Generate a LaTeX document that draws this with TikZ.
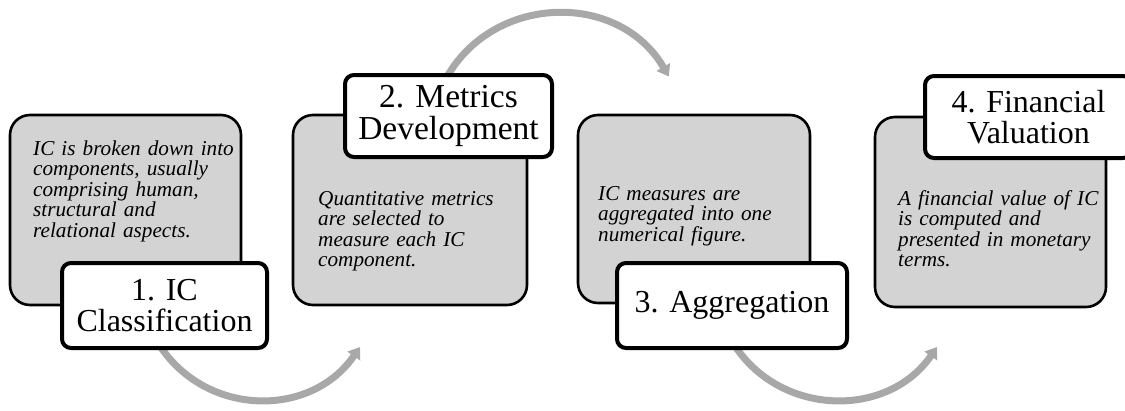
\documentclass[tikz,border=0pt]{standalone}
\usepackage{fontspec}
\setmainfont{Liberation Serif}
\usetikzlibrary{arrows.meta,shadows}
\definecolor{boxgray}{RGB}{211,211,211}
\definecolor{arrowgray}{RGB}{168,168,168}
\begin{document}
\begin{tikzpicture}[x=1pt,y=-1pt,
  gbox/.style={draw=black, line width=2.6pt, fill=boxgray, rounded corners=20pt, inner sep=0pt},
  lab/.style={draw=black, line width=4pt, fill=white, rounded corners=9pt, inner sep=0pt,
    align=center, font=\fontsize{32}{31}\selectfont,
    drop shadow={shadow xshift=1.5pt, shadow yshift=-1.5pt, opacity=0.3, fill=black}},
  desc/.style={anchor=base west, inner sep=0pt, text width=220pt, align=left,
    font=\fontsize{21.2}{20.5}\itshape\selectfont},
  flow/.style={draw=arrowgray, line width=7pt, -{Triangle[width=15pt,length=11pt]}}
]
\useasboundingbox (0,0) rectangle (1125,410);

% arrow end points
\coordinate (a1s) at (156,339.5);
\coordinate (a1e) at (360,347);
\coordinate (a2s) at (442.4,85.6);
\coordinate (a2e) at (668.8,76.5);
\coordinate (a3s) at (731,339.5);
\coordinate (a3e) at (937,347);

% connectors (drawn first, partly hidden by the labels)
\draw[flow] (a1s) .. controls (200.5,416.5) and (309.6,420.3) .. (a1e);
\draw[flow] (a2s) .. controls (486.1,-6.2) and (617.7,-11.4) .. (a2e);
\draw[flow] (a3s) .. controls (775.5,416.5) and (886.6,420.3) .. (a3e);

% grey boxes
\node[gbox, minimum width=231pt, minimum height=190pt] (b1) at (125.5,210) {};
\node[gbox, minimum width=234pt, minimum height=190pt] (b2) at (410,210) {};
\node[gbox, minimum width=232pt, minimum height=188pt] (b3) at (694,209) {};
\node[gbox, minimum width=231pt, minimum height=190pt] (b4) at (990.5,212) {};

% descriptions
\node[desc] (d1) at (33,155) {IC is broken down into\\components, usually\\comprising human,\\structural and\\relational aspects.};
\node[desc] (d2) at (318,205) {Quantitative metrics\\are selected to\\measure each IC\\component.};
\node[desc] (d3) at (598,200) {IC measures are\\aggregated into one\\numerical figure.};
\node[desc] (d4) at (898,205) {A financial value of IC\\is computed and\\presented in monetary\\terms.};

% labels
\node[lab, minimum width=205pt, minimum height=85pt] (l1) at (164.5,305.5) {1. IC\\Classification};
\node[lab, minimum width=207pt, minimum height=82pt, font=\fontsize{33.5}{32.5}\selectfont] (l2) at (448.5,116) {2. Metrics\\Development};
\node[lab, minimum width=230pt, minimum height=85pt] (l3) at (732,305.5) {3. Aggregation};
\node[lab, minimum width=207pt, minimum height=82pt] (l4) at (1028.5,117) {4. Financial\\Valuation};
\end{tikzpicture}
\end{document}
